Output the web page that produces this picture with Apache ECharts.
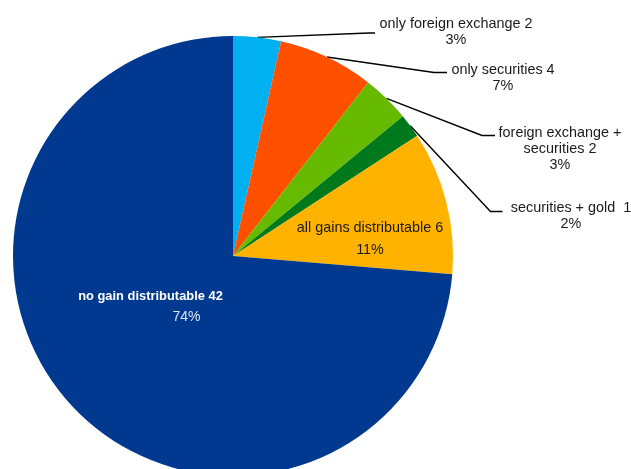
<!DOCTYPE html>
<html>
<head>
<meta charset="utf-8">
<script src="https://cdn.jsdelivr.net/npm/echarts@6/dist/echarts.min.js"></script>
<style>
  html, body { margin: 0; padding: 0; background: #ffffff; }
  #chart { width: 631px; height: 469px; }
</style>
</head>
<body>
<div id="chart"></div>
<script>
// Categories of distributable gains and the number of cases in each
const categories = [
  'only foreign exchange',
  'only securities',
  'foreign exchange +\nsecurities',
  'securities + gold ',
  'all gains distributable',
  'no gain distributable'
];
const counts = [2, 4, 2, 1, 6, 42];
const sliceColors = ['#00b0f0', '#ff5000', '#66bb00', '#00791c', '#ffb300', '#00398f'];
const insideLabel = [false, false, false, false, true, true];

// Where each label block is centred; outside labels also say where the leader line meets the text
const labelPlacement = [
  { x: 456, y: 32, lineEnd: [375, 33], elbow: 6 },
  { x: 503, y: 78.5, lineEnd: [447, 72.5], elbow: 13 },
  { x: 560, y: 149, lineEnd: [495, 135.5], elbow: 13 },
  { x: 571, y: 216.5, lineEnd: [502.5, 211.5], elbow: 12 },
  { x: 370, y: 239 },
  { x: 150.5, y: 306.5 }
];

const FONT = '"Liberation Sans", Arial, sans-serif';

const pieData = categories.map((name, i) => ({
  name: name,
  value: counts[i],
  itemStyle: { color: sliceColors[i] },
  label: { position: insideLabel[i] ? 'inside' : 'outside' },
  labelLine: { show: !insideLabel[i] }
}));

const chart = echarts.init(document.getElementById('chart'), null, { renderer: 'canvas' });

chart.setOption({
  animation: false,
  backgroundColor: '#ffffff',
  series: [{
    type: 'pie',
    center: [233, 256],
    radius: 220,
    startAngle: 90,
    clockwise: true,
    percentPrecision: 0,
    avoidLabelOverlap: false,
    emphasis: { disabled: true },
    data: pieData,
    label: {
      show: true,
      width: 260,
      overflow: 'none',
      fontFamily: FONT,
      fontSize: 14.4,
      lineHeight: 16,
      color: '#1a1a1a',
      formatter: function (p) {
        if (p.dataIndex === 5) {
          return '{n|' + p.name + ' ' + p.value + '}\n{p|' + p.percent + '%}';
        }
        if (p.dataIndex === 4) {
          return '{m|' + p.name + ' ' + p.value + '}\n{m|' + p.percent + '%}';
        }
        return p.name + ' ' + p.value + '\n' + p.percent + '%';
      },
      rich: {
        n: { fontFamily: FONT, fontSize: 12.9, fontWeight: 'bold', color: '#ffffff', lineHeight: 21 },
        p: { fontFamily: FONT, fontSize: 14, color: '#dfe4ef', lineHeight: 21, padding: [0, 0, 0, 72] },
        m: { fontFamily: FONT, fontSize: 14.4, color: '#1a1a1a', lineHeight: 22 }
      }
    },
    labelLine: {
      lineStyle: { color: '#000000', width: 1.4 }
    },
    labelLayout: function (params) {
      const place = labelPlacement[params.dataIndex];
      const out = { x: place.x, y: place.y, align: 'center', verticalAlign: 'middle' };
      if (place.lineEnd && params.labelLinePoints) {
        const start = params.labelLinePoints[0];
        const end = place.lineEnd;
        out.labelLinePoints = [
          [start[0], start[1]],
          [end[0] - place.elbow, end[1]],
          [end[0], end[1]]
        ];
      }
      return out;
    }
  }]
});
</script>
</body>
</html>
